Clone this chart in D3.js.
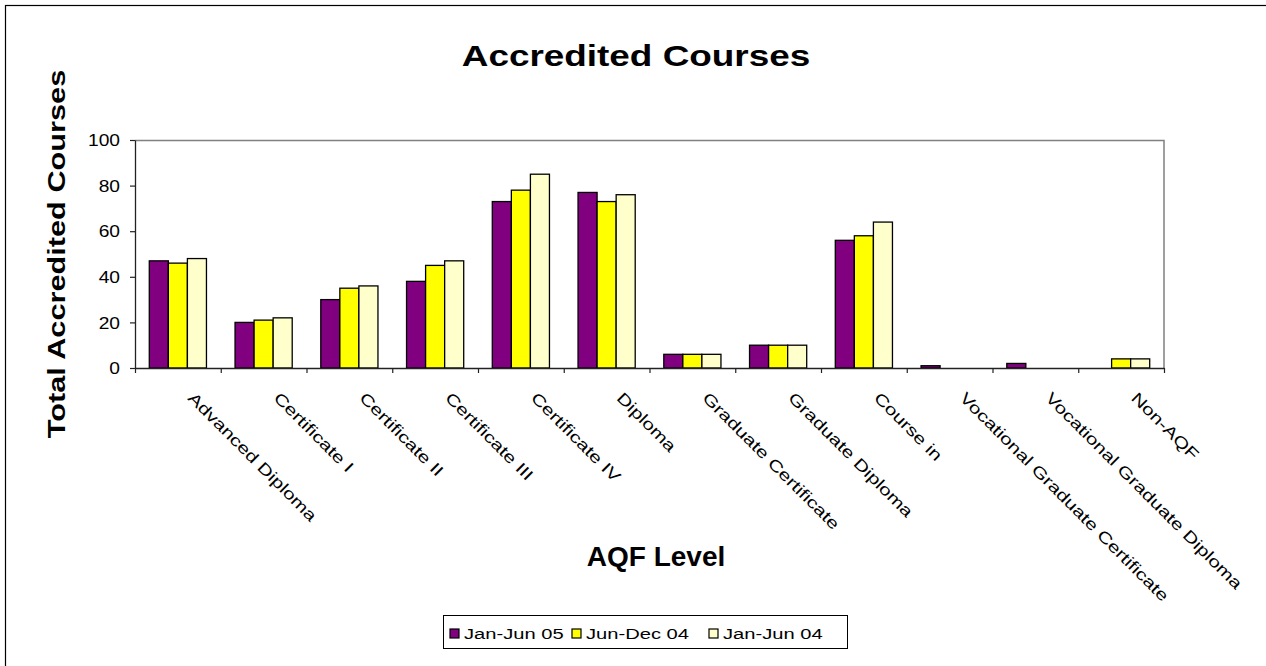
<!DOCTYPE html>
<html>
<head>
<meta charset="utf-8">
<script src="https://cdn.jsdelivr.net/npm/d3@7"></script>
<style>
  body { margin: 0; background: #fff; }
  text { font-family: "Liberation Sans", Arial, sans-serif; fill: #000; }
</style>
</head>
<body>
<div id="chart"></div>
<script>
// data
var categories = ["Advanced Diploma", "Certificate I", "Certificate II", "Certificate III",
  "Certificate IV", "Diploma", "Graduate Certificate", "Graduate Diploma", "Course in",
  "Vocational Graduate Certificate", "Vocational Graduate Diploma", "Non-AQF"];
var seriesNames = ["Jan-Jun 05", "Jun-Dec 04", "Jan-Jun 04"];
var janJun05 = [47, 20, 30, 38, 73, 77, 6, 10, 56, 1, 2, 0];
var junDec04 = [46, 21, 35, 45, 78, 73, 6, 10, 58, 0, 0, 4];
var janJun04 = [48, 22, 36, 47, 85, 76, 6, 10, 64, 0, 0, 4];
var yTicks = [0, 20, 40, 60, 80, 100];
var colors = ["#800080", "#ffff00", "#ffffcc"];

var svgWidth = 1266;
var svgHeight = 666;
var margin = { top: 140, left: 135 };
var width = 1029;
var height = 228;

var svg = d3.select("#chart")
  .append("svg")
  .attr("width", svgWidth)
  .attr("height", svgHeight);

// outer chart frame (only top/left edges fall inside the picture)
svg.append("rect")
  .attr("x", 5.5).attr("y", 5.5)
  .attr("width", svgWidth + 20).attr("height", svgHeight + 20)
  .attr("fill", "none").attr("stroke", "#000").attr("stroke-width", 1.2);

var chartGroup = svg.append("g")
  .attr("transform", `translate(${margin.left}, ${margin.top})`);

var table = categories.map(function(c, i) {
  return { cat: c, values: [janJun05[i], junDec04[i], janJun04[i]] };
});

var x0 = d3.scaleBand().domain(categories).range([0, width]).padding(0);
var bw = x0.bandwidth();
var x1 = d3.scaleBand().domain(d3.range(seriesNames.length))
  .range([bw / 6, bw * 5 / 6]).padding(0);
var xEdge = d3.scaleLinear().domain([0, categories.length]).range([0, width]);
var y = d3.scaleLinear().domain([0, 100]).range([height, 0]);

// plot area top/right border
chartGroup.append("path")
  .attr("d", `M0,0.5H${width}V${height}`)
  .attr("fill", "none").attr("stroke", "#808080").attr("stroke-width", 1.5);

// bars
var groups = chartGroup.selectAll(".grp")
  .data(table)
  .enter()
  .append("g")
  .attr("transform", d => `translate(${x0(d.cat)},0)`);

groups.selectAll("rect")
  .data(d => d.values.map((v, k) => ({ k: k, v: v })).filter(e => e.v > 0))
  .enter()
  .append("rect")
  .attr("x", d => x1(d.k))
  .attr("y", d => y(d.v))
  .attr("width", x1.bandwidth())
  .attr("height", d => height - y(d.v))
  .attr("fill", d => colors[d.k])
  .attr("stroke", "#000")
  .attr("stroke-width", 1.3);

// y axis
var leftAxis = d3.axisLeft(y).tickValues(yTicks).tickSize(5).tickSizeOuter(0);
var yAxisG = chartGroup.append("g").call(leftAxis);
yAxisG.select(".domain").attr("stroke", "#222").attr("stroke-width", 1.3);
yAxisG.selectAll(".tick line").attr("stroke", "#222").attr("stroke-width", 1.2);
yAxisG.selectAll(".tick text")
  .attr("x", -12.5)
  .attr("dy", "0.36em")
  .attr("transform", "scale(1.2,1)")
  .style("font-size", "16px")
  .attr("font-family", null);

// x axis: ticks between categories
var bottomAxis = d3.axisBottom(xEdge).tickValues(d3.range(categories.length + 1))
  .tickSize(5).tickSizeOuter(0).tickFormat("");
var xAxisG = chartGroup.append("g")
  .attr("transform", `translate(0, ${height})`)
  .call(bottomAxis);
xAxisG.select(".domain").attr("stroke", "#222").attr("stroke-width", 1.3);
xAxisG.selectAll(".tick line").attr("stroke", "#222").attr("stroke-width", 1.2);

// category labels, rotated
chartGroup.selectAll(".catLabel")
  .data(categories)
  .enter()
  .append("text")
  .attr("class", "catLabel")
  .attr("transform", d => `translate(${x0(d) + bw / 2 + 9}, ${height + 31}) rotate(45) scale(1.3,1)`)
  .style("font-size", "16px")
  .text(d => d);

// titles
svg.append("text")
  .attr("transform", "translate(636, 66) scale(1.23,1)")
  .attr("text-anchor", "middle")
  .style("font-size", "30px")
  .style("font-weight", "bold")
  .text("Accredited Courses");

svg.append("text")
  .attr("transform", `translate(65, ${margin.top + height / 2}) rotate(-90) scale(1.28,1)`)
  .attr("text-anchor", "middle")
  .style("font-size", "24px")
  .style("font-weight", "bold")
  .text("Total Accredited Courses");

svg.append("text")
  .attr("transform", "translate(656, 566)")
  .attr("text-anchor", "middle")
  .style("font-size", "28px")
  .style("font-weight", "bold")
  .text("AQF Level");

// legend
var legend = svg.append("g").attr("transform", "translate(443, 615)");
legend.append("rect")
  .attr("x", 0.5).attr("y", 0.5).attr("width", 404).attr("height", 33)
  .attr("fill", "#fff").attr("stroke", "#000").attr("stroke-width", 1);
var legendX = [7, 129, 266];
var items = legend.selectAll(".item")
  .data(seriesNames)
  .enter()
  .append("g")
  .attr("transform", (d, i) => `translate(${legendX[i]}, 0)`);
items.append("rect")
  .attr("x", 0).attr("y", 14).attr("width", 9).attr("height", 9)
  .attr("fill", (d, i) => colors[i])
  .attr("stroke", "#000").attr("stroke-width", 1.2);
items.append("text")
  .attr("transform", "translate(14, 24) scale(1.3,1)")
  .style("font-size", "15.5px")
  .text(d => d);
</script>
</body>
</html>
